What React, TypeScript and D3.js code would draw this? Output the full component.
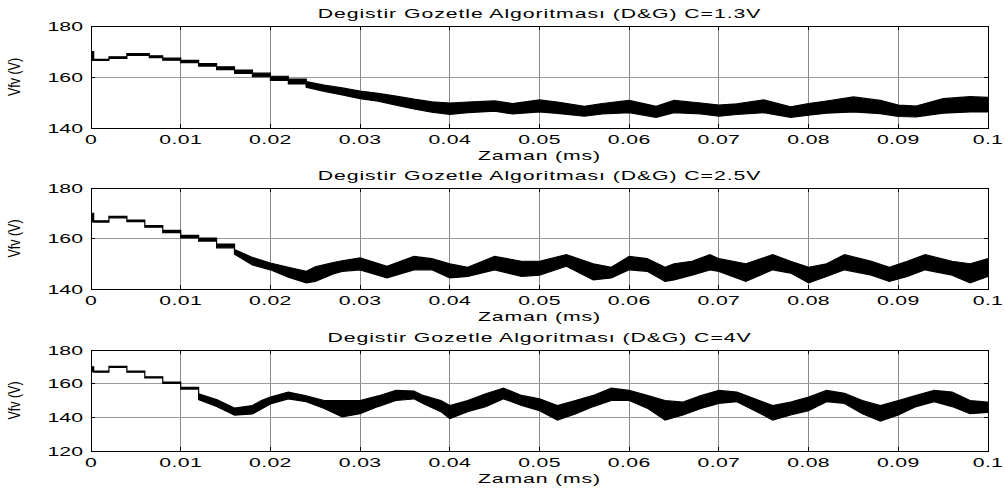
import React from 'react';
import * as d3 from 'd3';

const xTickValues = [0, 0.01, 0.02, 0.03, 0.04, 0.05, 0.06, 0.07, 0.08, 0.09, 0.1];
const xTickLabels = ['0', '0.01', '0.02', '0.03', '0.04', '0.05', '0.06', '0.07', '0.08', '0.09', '0.1'];
const titles = [
  'Degistir Gozetle Algoritması (D&G) C=1.3V',
  'Degistir Gozetle Algoritması (D&G) C=2.5V',
  'Degistir Gozetle Algoritması (D&G) C=4V',
];
const xLabel = 'Zaman (ms)';
const yLabel = 'Vfv (V)';
const yTicksA = [140, 160, 180];
const yTicksB = [140, 160, 180];
const yTicksC = [120, 140, 160, 180];

// time at which the clean staircase turns into the rippled band, per panel
const stepEnds = [0.024, 0.016, 0.012];

// Panel 1 (C=1.3V): time, lower and upper envelope of the rippled voltage
const t1 = [0, 0.0003, 0.002, 0.004, 0.0065, 0.008, 0.010, 0.012, 0.014, 0.016, 0.018, 0.020, 0.022, 0.024, 0.026, 0.028, 0.030, 0.032, 0.034, 0.036, 0.038, 0.040, 0.042, 0.045, 0.047, 0.050, 0.052, 0.055, 0.057, 0.060, 0.063, 0.065, 0.068, 0.070, 0.072, 0.075, 0.078, 0.080, 0.082, 0.085, 0.088, 0.090, 0.092, 0.095, 0.098, 0.1];
const lo1 = [166.5, 166.5, 167.3, 168.5, 167.6, 166.6, 165.6, 164.3, 162.9, 161.4, 160.1, 158.7, 157.3, 156.0, 154.3, 153.0, 151.5, 150.5, 149.0, 147.5, 146.2, 145.3, 146.0, 146.6, 145.5, 146.3, 145.7, 144.6, 145.5, 146.0, 144.2, 146.0, 145.5, 144.6, 145.3, 146.0, 144.2, 145.0, 145.8, 146.3, 145.6, 144.5, 144.4, 145.8, 146.3, 146.3];
const hi1 = [170.0, 166.9, 167.9, 169.2, 168.3, 167.4, 166.5, 165.3, 164.0, 162.7, 161.5, 160.3, 159.2, 158.2, 156.8, 155.7, 154.5, 153.6, 152.5, 151.3, 150.3, 149.8, 150.2, 150.6, 149.6, 151.0, 150.2, 148.5, 149.6, 150.8, 148.5, 150.8, 149.8, 149.0, 149.5, 151.0, 148.3, 149.6, 150.6, 152.2, 150.8, 149.0, 148.6, 151.5, 152.3, 152.0];

// Panel 2 (C=2.5V)
const t2 = [0, 0.0003, 0.002, 0.004, 0.006, 0.008, 0.010, 0.012, 0.014, 0.016, 0.018, 0.020, 0.022, 0.024, 0.025, 0.027, 0.028, 0.030, 0.033, 0.036, 0.038, 0.040, 0.042, 0.045, 0.048, 0.050, 0.053, 0.056, 0.058, 0.060, 0.062, 0.064, 0.065, 0.067, 0.069, 0.070, 0.073, 0.076, 0.078, 0.080, 0.082, 0.084, 0.087, 0.089, 0.091, 0.093, 0.096, 0.098, 0.1];
const lo2 = [166.6, 166.5, 168.2, 166.7, 164.5, 162.3, 160.2, 159.0, 156.3, 153.8, 149.5, 147.6, 144.7, 142.4, 143.0, 146.0, 147.0, 147.6, 144.4, 147.6, 147.6, 144.4, 145.0, 147.6, 145.0, 145.5, 149.0, 143.6, 144.4, 147.6, 147.0, 143.0, 143.6, 145.5, 147.6, 147.0, 143.0, 147.6, 146.3, 142.4, 145.0, 147.6, 145.5, 143.0, 145.0, 147.6, 145.5, 142.4, 145.0];
const hi2 = [170.0, 167.0, 168.8, 167.3, 165.1, 163.2, 161.2, 160.2, 157.8, 155.6, 152.5, 150.3, 148.6, 147.0, 148.8, 150.5, 151.2, 152.3, 149.0, 152.9, 152.0, 150.0, 148.6, 152.9, 151.0, 151.0, 153.6, 150.0, 148.6, 152.9, 152.0, 148.6, 150.0, 151.0, 153.6, 152.0, 150.0, 153.6, 151.0, 148.6, 150.0, 153.6, 151.0, 148.6, 151.0, 153.6, 151.0, 150.0, 152.0];

// Panel 3 (C=4V)
const t3 = [0, 0.0003, 0.002, 0.004, 0.006, 0.008, 0.010, 0.012, 0.014, 0.016, 0.018, 0.019, 0.020, 0.022, 0.024, 0.026, 0.028, 0.030, 0.032, 0.034, 0.036, 0.037, 0.039, 0.040, 0.042, 0.044, 0.046, 0.048, 0.050, 0.052, 0.054, 0.056, 0.058, 0.060, 0.062, 0.064, 0.066, 0.068, 0.070, 0.072, 0.074, 0.076, 0.078, 0.080, 0.082, 0.084, 0.086, 0.088, 0.090, 0.092, 0.094, 0.096, 0.098, 0.1];
const lo3 = [167.1, 166.8, 169.7, 166.8, 163.5, 160.2, 156.8, 150.5, 146.5, 141.3, 142.0, 145.0, 148.0, 151.0, 149.3, 145.3, 140.3, 142.2, 146.4, 150.0, 151.0, 148.3, 143.4, 139.2, 143.4, 146.4, 151.0, 147.0, 144.0, 138.4, 142.0, 146.4, 150.0, 150.0, 145.5, 138.4, 141.4, 145.3, 148.3, 149.3, 144.0, 138.4, 141.4, 144.0, 149.3, 148.3, 142.2, 137.8, 141.4, 146.4, 149.3, 146.4, 142.2, 143.0];
const hi3 = [170.0, 167.4, 170.3, 167.4, 164.1, 161.0, 157.8, 154.0, 150.5, 145.5, 147.0, 150.0, 152.0, 155.0, 152.7, 150.0, 150.0, 150.0, 152.7, 156.0, 155.6, 153.0, 150.0, 147.0, 150.0, 154.0, 157.3, 153.0, 151.0, 147.0, 150.0, 153.0, 157.3, 156.0, 153.0, 150.0, 149.0, 153.0, 156.0, 155.0, 151.0, 147.0, 149.0, 152.0, 156.0, 154.3, 150.0, 147.0, 150.0, 153.0, 156.0, 155.0, 150.0, 149.0];

const FONT = '"Liberation Sans", Arial, Helvetica, sans-serif';
const FS = 12.5;
const SX = 1.7;
const X0 = 91;
const X1 = 988;

type Pt = { t: number; lo: number; hi: number };

function zip(t: number[], lo: number[], hi: number[]): Pt[] {
  return t.map((v, i) => ({ t: v, lo: lo[i], hi: hi[i] }));
}

function T(props: { x: number; y: number; anchor?: string; children: React.ReactNode; dy?: string; ls?: number }) {
  return (
    <text
      transform={`translate(${props.x},${props.y}) scale(${SX},1)`}
      textAnchor={props.anchor || 'middle'}
      dy={props.dy}
      fontFamily={FONT}
      fontSize={FS}
      letterSpacing={props.ls || 0}
      fill="#000"
    >
      {props.children}
    </text>
  );
}

function Panel(props: { id: string; title: string; data: Pt[]; stepEnd: number; yTicks: number[]; top: number; bottom: number }) {
  const { title, data, yTicks, top, bottom, id, stepEnd } = props;
  const x = d3.scaleLinear().domain([0, 0.1]).range([X0, X1]);
  const y = d3.scaleLinear().domain([yTicks[0], yTicks[yTicks.length - 1]]).range([bottom, top]);
  const stepArea = d3
    .area<Pt>()
    .x((d) => x(d.t))
    .y0((d) => y(d.lo))
    .y1((d) => y(d.hi))
    .curve(d3.curveStepAfter);
  const rippleArea = d3
    .area<Pt>()
    .x((d) => x(d.t))
    .y0((d) => y(d.lo))
    .y1((d) => y(d.hi))
    .curve(d3.curveLinear);
  const stepPart = data.filter((d) => d.t <= stepEnd);
  const ripplePart = data.filter((d) => d.t >= stepEnd);
  const cx = (X0 + X1) / 2;
  const tick = 4;
  return (
    <g>
      <defs>
        <clipPath id={id}>
          <rect x={X0} y={top} width={X1 - X0} height={bottom - top} />
        </clipPath>
      </defs>
      <rect x={X0} y={top} width={X1 - X0} height={bottom - top} fill="#fff" />
      {xTickValues.slice(1, -1).map((v) => (
        <line key={'gx' + v} x1={x(v)} x2={x(v)} y1={top} y2={bottom} stroke="#8a8a8a" strokeWidth={1} shapeRendering="crispEdges" />
      ))}
      {yTicks.slice(1, -1).map((v) => (
        <line key={'gy' + v} x1={X0} x2={X1} y1={y(v)} y2={y(v)} stroke="#9a9a9a" strokeWidth={1} shapeRendering="crispEdges" />
      ))}
      <g clipPath={`url(#${id})`}>
        <path d={stepArea(stepPart) || ''} fill="#000" stroke="#000" strokeWidth={1.2} />
        <path d={rippleArea(ripplePart) || ''} fill="#000" stroke="#000" strokeWidth={1.2} />
      </g>
      <rect x={X0} y={top} width={X1 - X0} height={bottom - top} fill="none" stroke="#000" strokeWidth={1} shapeRendering="crispEdges" />
      {xTickValues.map((v) => (
        <g key={'tx' + v}>
          <line x1={x(v)} x2={x(v)} y1={bottom} y2={bottom - tick} stroke="#000" shapeRendering="crispEdges" />
          <line x1={x(v)} x2={x(v)} y1={top} y2={top + tick} stroke="#000" shapeRendering="crispEdges" />
        </g>
      ))}
      {yTicks.map((v) => (
        <g key={'ty' + v}>
          <line x1={X0} x2={X0 + tick} y1={y(v)} y2={y(v)} stroke="#000" shapeRendering="crispEdges" />
          <line x1={X1} x2={X1 - tick} y1={y(v)} y2={y(v)} stroke="#000" shapeRendering="crispEdges" />
        </g>
      ))}
      {yTicks.map((v) => (
        <T key={'ly' + v} x={83} y={y(v)} anchor="end" dy="0.36em">
          {String(v)}
        </T>
      ))}
      {xTickLabels.map((lab, i) => (
        <T key={'lx' + lab} x={x(xTickValues[i])} y={bottom + 16} ls={0.2}>
          {lab}
        </T>
      ))}
      <T x={cx} y={bottom + 32} ls={0.5}>{xLabel}</T>
      <T x={cx} y={top - 8} ls={0.55}>{title}</T>
      <text
        transform={`translate(20,${(top + bottom) / 2}) rotate(-90) scale(1,1.3)`}
        textAnchor="middle"
        fontFamily={FONT}
        fontSize={FS}
        fill="#000"
      >
        {yLabel}
      </text>
    </g>
  );
}

export default function App() {
  return (
    <svg
      width={1005}
      height={495}
      style={{ position: 'absolute', left: 0, top: 0, display: 'block', background: '#fff' }}
    >
      <rect x={0} y={0} width={1005} height={495} fill="#fff" />
      <Panel id="c1" title={titles[0]} data={zip(t1, lo1, hi1)} stepEnd={stepEnds[0]} yTicks={yTicksA} top={26} bottom={128} />
      <Panel id="c2" title={titles[1]} data={zip(t2, lo2, hi2)} stepEnd={stepEnds[1]} yTicks={yTicksB} top={188} bottom={289} />
      <Panel id="c3" title={titles[2]} data={zip(t3, lo3, hi3)} stepEnd={stepEnds[2]} yTicks={yTicksC} top={350} bottom={451} />
    </svg>
  );
}
